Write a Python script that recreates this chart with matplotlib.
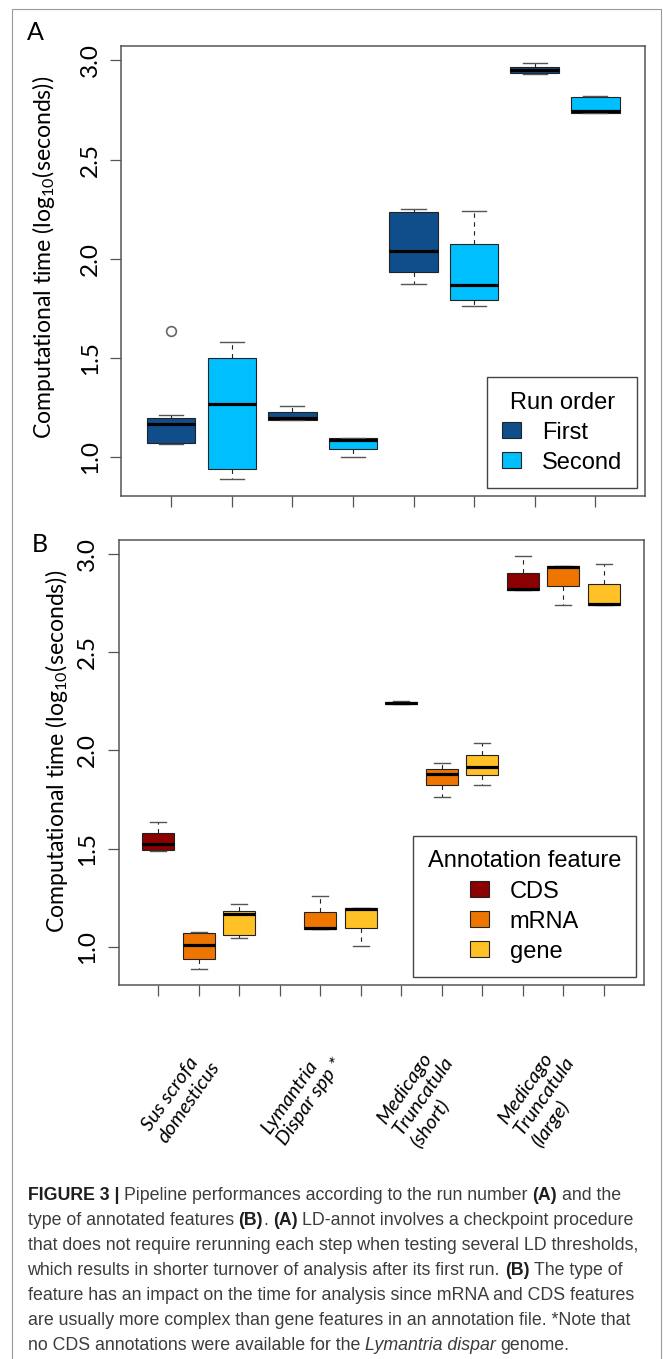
import matplotlib
matplotlib.use('Agg')
import matplotlib.pyplot as plt
from matplotlib.patches import Patch, Rectangle

# groups shown under panel B
groups = ['Sus scrofa\ndomesticus', 'Lymantria\nDispar spp *',
          'Medicago\nTruncatula\n(short)', 'Medicago\nTruncatula\n(large)']

# panel A, one [whislo, q1, median, q3, whishi] per group
first_run = [[1.070, 1.075, 1.171, 1.199, 1.216],
             [1.187, 1.187, 1.199, 1.228, 1.258],
             [1.876, 1.933, 2.040, 2.236, 2.253],
             [2.933, 2.938, 2.950, 2.966, 2.988]]
second_run = [[0.890, 0.942, 1.271, 1.501, 1.582],
              [1.000, 1.043, 1.090, 1.098, 1.098],
              [1.763, 1.795, 1.871, 2.075, 2.241],
              [2.735, 2.735, 2.745, 2.815, 2.820]]
first_outliers = [[1.637], [], [], []]
second_outliers = [[], [], [], []]
run_labels = ['First', 'Second']
run_colors = ['#104E8B', '#00BFFF']

# panel B, same layout; no CDS for Lymantria
cds = [[1.488, 1.492, 1.522, 1.581, 1.636],
       None,
       [2.234, 2.238, 2.242, 2.246, 2.251],
       [2.814, 2.814, 2.822, 2.903, 2.986]]
mrna = [[0.890, 0.936, 1.008, 1.073, 1.078],
        [1.093, 1.093, 1.098, 1.178, 1.261],
        [1.764, 1.822, 1.878, 1.907, 1.934],
        [2.737, 2.836, 2.932, 2.937, 2.937]]
gene = [[1.046, 1.059, 1.169, 1.183, 1.220],
        [1.003, 1.098, 1.195, 1.200, 1.200],
        [1.825, 1.873, 1.915, 1.975, 2.039],
        [2.739, 2.739, 2.746, 2.846, 2.949]]
feat_labels = ['CDS', 'mRNA', 'gene']
feat_colors = ['#8B0000', '#EE7600', '#FFC125']

yticks = [1.0, 1.5, 2.0, 2.5, 3.0]
ylab = r'Computational time (log$_{\mathregular{10}}$(seconds))'

W, H = 663, 1359
TXT = 'Lato'
LEG = 'Liberation Sans'


def fx(px):
    return px / W


def fy(py):
    return 1 - py / H


def panel(ax, series, colors, outliers=None):
    ns = len(series)
    stats, pos, cols, allv = [], [], [], []
    for s, vals in enumerate(series):
        for g, v in enumerate(vals):
            if v is None:
                continue
            fl = outliers[s][g] if outliers else []
            stats.append(dict(whislo=v[0], q1=v[1], med=v[2], q3=v[3], whishi=v[4], fliers=fl))
            pos.append(g * ns + s + 1)
            cols.append(colors[s])
            allv += [v[0], v[4]] + list(fl)
    bp = ax.bxp(stats, positions=pos, widths=0.8, capwidths=0.4, patch_artist=True,
                boxprops=dict(edgecolor='#222222', linewidth=0.8),
                medianprops=dict(color='black', linewidth=2.3, solid_capstyle='butt'),
                whiskerprops=dict(color='#222222', linewidth=0.8, linestyle=(0, (4, 4))),
                capprops=dict(color='#555555', linewidth=1.0),
                flierprops=dict(marker='o', markerfacecolor='none', markeredgecolor='#666666',
                                markersize=7, markeredgewidth=1.2))
    for b, c in zip(bp['boxes'], cols):
        b.set_facecolor(c)
    n = len(series[0]) * ns
    ax.set_xlim(0.5 - 0.04 * n, n + 0.5 + 0.04 * n)
    lo, hi = min(allv), max(allv)
    ax.set_ylim(lo - 0.04 * (hi - lo), hi + 0.04 * (hi - lo))
    ax.set_xticks(range(1, n + 1))
    ax.set_xticklabels([])
    ax.set_yticks(yticks)
    ax.set_yticklabels(['%.1f' % t for t in yticks], rotation=90, va='center',
                       family=TXT, fontsize=17.5)
    ax.tick_params(length=7.9, width=0.9, color='#555555', pad=7)
    for sp in ax.spines.values():
        sp.set_color('#555555')
        sp.set_linewidth(1.1)


def legend(ax, title, labels, colors):
    hs = [Patch(facecolor=c, edgecolor='#222222', linewidth=0.8, label=l)
          for l, c in zip(labels, colors)]
    leg = ax.legend(handles=hs, title=title, loc='lower right', bbox_to_anchor=(1, 0),
                    borderaxespad=0.32, prop={'family': LEG, 'size': 17},
                    title_fontproperties={'family': LEG, 'size': 17},
                    handlelength=0.8, handleheight=0.68, handletextpad=0.9,
                    labelspacing=0.34, borderpad=0.63, fancybox=False, framealpha=1,
                    edgecolor='#444444')
    leg.get_frame().set_linewidth(1.0)


fig = plt.figure(figsize=(6.63, 13.59), dpi=100)
axA = fig.add_axes([fx(121.5), fy(496), (645 - 121.5) / W, (496 - 46) / H])
axB = fig.add_axes([fx(118.5), fy(985), (643.5 - 118.5) / W, (985 - 540) / H])

panel(axA, [first_run, second_run], run_colors, [first_outliers, second_outliers])
legend(axA, 'Run order', run_labels, run_colors)
panel(axB, [cds, mrna, gene], feat_colors)
legend(axB, 'Annotation feature', feat_labels, feat_colors)

axA.text((44 - 121.5) / 523.5, 0.531, ylab, transform=axA.transAxes, rotation=90,
         ha='center', va='center', family=TXT, fontsize=16.6)
axB.text((57 - 118.5) / 525, 0.524, ylab, transform=axB.transAxes, rotation=90,
         ha='center', va='center', family=TXT, fontsize=16.6)

for g, lab in enumerate(groups):
    axB.text(g * 3 + 2 - 0.45, -0.25, lab, transform=axB.get_xaxis_transform(),
             rotation=55, rotation_mode='anchor', ha='center', va='center',
             multialignment='left', style='italic', family=TXT, fontsize=14.5,
             linespacing=1.2)

fig.text(fx(27), fy(40), 'A', family=TXT, fontsize=18, va='baseline')
fig.text(fx(32), fy(552), 'B', family=TXT, fontsize=18, va='baseline')

# outer frame of the figure block
fig.patches.append(Rectangle((fx(12), fy(1380)), (661 - 12) / W, (1380 - 9) / H,
                             transform=fig.transFigure, fill=False,
                             edgecolor='#9a9a9a', linewidth=0.8))

# caption
cap = [
    [('FIGURE 3 |', 'b'), (' Pipeline performances according to the run number ', 'n'),
     ('(A)', 'b'), (' and the', 'n')],
    [('type of annotated features ', 'n'), ('(B)', 'b'), ('. ', 'n'), ('(A)', 'b'),
     (' LD-annot involves a checkpoint procedure', 'n')],
    [('that does not require rerunning each step when testing several LD thresholds,', 'n')],
    [('which results in shorter turnover of analysis after its first run. ', 'n'),
     ('(B)', 'b'), (' The type of', 'n')],
    [('feature has an impact on the time for analysis since mRNA and CDS features', 'n')],
    [('are usually more complex than gene features in an annotation file. *Note that', 'n')],
    [('no CDS annotations were available for the ', 'n'), ('Lymantria dispar', 'i'),
     (' genome.', 'n')],
]
kinds = {'n': dict(color='#3c3c3c'),
         'b': dict(weight='bold', color='#1e1e1e'),
         'i': dict(style='italic', color='#3c3c3c')}
r = fig.canvas.get_renderer()


def width(s, k, size):
    t = fig.text(0, 0, s, family=LEG, fontsize=size, **kinds[k])
    w = t.get_window_extent(r).width
    t.remove()
    return w


def line_width(segs, size):
    sp = width('a a', 'n', size) - width('aa', 'n', size)
    tot = 0
    for s, k in segs:
        core = s.strip()
        tot += (len(s) - len(s.lstrip())) * sp + (len(s) - len(s.rstrip())) * sp
        if core:
            tot += width(core, k, size)
    return tot


base = 12.4
size = base * 613 / max(line_width(l, base) for l in cap)
sp = width('a a', 'n', size) - width('aa', 'n', size)
for i, segs in enumerate(cap):
    x = 27.5
    yb = fy(1200 + 25 * i)
    for s, k in segs:
        x += (len(s) - len(s.lstrip())) * sp
        core = s.strip()
        if core:
            t = fig.text(fx(x), yb, core, family=LEG, fontsize=size, va='baseline', **kinds[k])
            x += t.get_window_extent(r).width
        x += (len(s) - len(s.rstrip())) * sp

fig.savefig('out.png', dpi=100)
